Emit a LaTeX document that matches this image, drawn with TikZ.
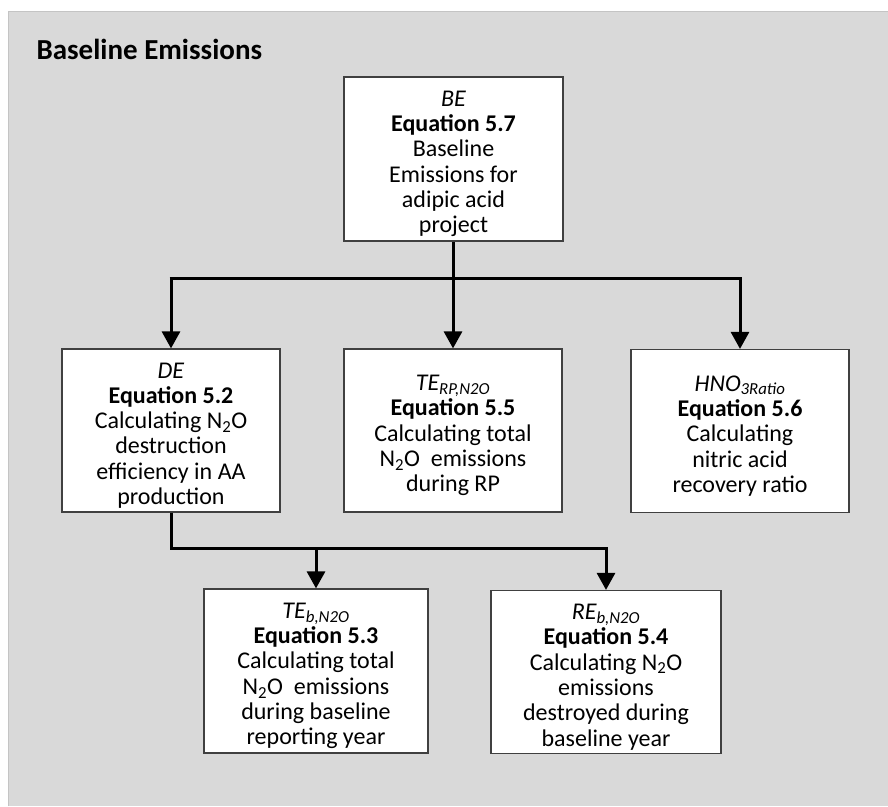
\documentclass[tikz,border=0pt]{standalone}
\usepackage{fontspec}
\setmainfont{Carlito}
\usetikzlibrary{arrows.meta}
\definecolor{panelgray}{HTML}{D9D9D9}
\definecolor{paneledge}{HTML}{C4C4C4}
\definecolor{boxedge}{HTML}{404040}
\tikzset{
  eqbox/.style={draw=boxedge, line width=1.2pt, fill=white, inner sep=0pt},
  eqtext/.style={inner sep=0pt, align=center, yshift=-5pt,
    font=\fontsize{24}{25.3}\selectfont},
  conn/.style={line width=3pt, black},
  arr/.style={conn, -{Triangle[width=18pt,length=17pt]}}
}
\begin{document}
\begin{tikzpicture}[x=1pt,y=-1pt]
\useasboundingbox (0,0) rectangle (888,806);
\fill[white] (0,0) rectangle (888,806);
\fill[panelgray] (8,11) rectangle (888,806);
\draw[paneledge, line width=1pt] (8.5,806) -- (8.5,11.5) -- (888,11.5);
\node[anchor=west, font=\fontsize{29}{32}\selectfont\bfseries] (title) at (33,49) {Baseline Emissions};
% boxes
\node[eqbox, minimum width=219pt, minimum height=164pt] (BE) at (453.5,159) {};
\node[eqbox, minimum width=218pt, minimum height=163pt] (DE) at (171,430.5) {};
\node[eqbox, minimum width=218pt, minimum height=163pt] (TERP) at (453,430.5) {};
\node[eqbox, minimum width=218pt, minimum height=163pt] (HNO) at (740,431) {};
\node[eqbox, minimum width=224pt, minimum height=164pt] (TEb) at (316,671) {};
\node[eqbox, minimum width=230pt, minimum height=163pt] (REb) at (606,672) {};
% texts
\node[eqtext] (BEt) at (BE.center)
  {\textit{BE}\\\textbf{Equation 5.7}\\Baseline\\Emissions for\\adipic acid\\project};
\node[eqtext] (DEt) at (DE.center)
  {\textit{DE}\\\textbf{Equation 5.2}\\Calculating N\textsubscript{2}O\\destruction\\efficiency in AA\\production};
\node[eqtext] (TERPt) at (TERP.center)
  {\textit{TE\textsubscript{RP,N2O}}\\\textbf{Equation 5.5}\\Calculating total\\N\textsubscript{2}O\ \ emissions\\during RP};
\node[eqtext] (HNOt) at (HNO.center)
  {\textit{HNO\textsubscript{3Ratio}}\\\textbf{Equation 5.6}\\Calculating\\nitric acid\\recovery ratio};
\node[eqtext] (TEbt) at (TEb.center)
  {\textit{TE\textsubscript{b,N2O}}\\\textbf{Equation 5.3}\\Calculating total\\N\textsubscript{2}O\ \ emissions\\during baseline\\reporting year};
\node[eqtext] (REbt) at (REb.center)
  {\textit{RE\textsubscript{b,N2O}}\\\textbf{Equation 5.4}\\Calculating N\textsubscript{2}O\\emissions\\destroyed during\\baseline year};
\coordinate (busA) at (0,278);
\coordinate (busB) at (0,548);
% top connector
\draw[conn] (BE.south) -- (BE.south |- busA);
\draw[conn] ([xshift=-1.5pt]DE.north |- busA) -- ([xshift=1.5pt]HNO.north |- busA);
\draw[arr] (DE.north |- busA) -- (DE.north);
\draw[arr] (TERP.north |- busA) -- (TERP.north);
\draw[arr] (HNO.north |- busA) -- (HNO.north);
% lower connector
\draw[conn] (DE.south) -- (DE.south |- busB) -- ([xshift=1.5pt]REb.north |- busB);
\draw[arr] (TEb.north |- busB) -- (TEb.north);
\draw[arr] (REb.north |- busB) -- (REb.north);
\end{tikzpicture}
\end{document}
